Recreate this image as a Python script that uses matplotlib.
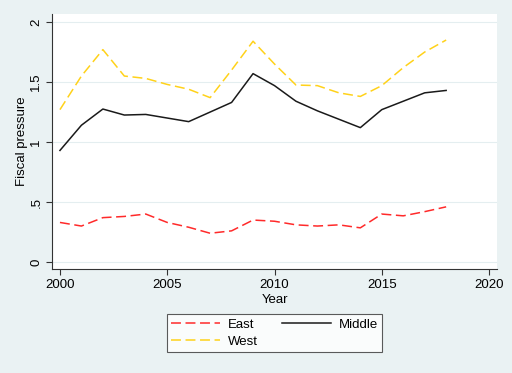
import numpy as np
import matplotlib.pyplot as plt

plt.rcParams['font.family'] = ['Liberation Sans', 'DejaVu Sans']

years = list(range(2000, 2019))
east = [0.33, 0.30, 0.37, 0.38, 0.40, 0.33, 0.29, 0.24, 0.26, 0.35,
        0.34, 0.31, 0.30, 0.31, 0.285, 0.40, 0.385, 0.42, 0.46]
middle = [0.93, 1.14, 1.275, 1.225, 1.23, 1.20, 1.17, 1.25, 1.33, 1.57,
          1.47, 1.34, 1.26, 1.19, 1.12, 1.27, 1.34, 1.41, 1.43]
west = [1.27, 1.55, 1.77, 1.55, 1.53, 1.48, 1.44, 1.37, 1.60, 1.84,
        1.65, 1.475, 1.47, 1.41, 1.38, 1.47, 1.62, 1.75, 1.85]

yticks = [0, 0.5, 1, 1.5, 2]
yticklabels = ['0', '.5', '1', '1.5', '2']
xticks = [2000, 2005, 2010, 2015, 2020]

bg = '#eaf2f3'
fs = 9.5
fig = plt.figure(figsize=(5.12, 3.73), dpi=100, facecolor=bg)
ax = fig.add_axes([0.1016, 0.2788, 0.8691, 0.6837])
ax.set_facecolor('white')

for y in yticks:
    ax.axhline(y, color='#e4eef0', lw=0.8, zorder=0)

l_east, = ax.plot(years, east, color='#ff2a2a', lw=1.1, dashes=(6.5, 3), label='East')
l_mid, = ax.plot(years, middle, color='#1a1a1a', lw=1.1, label='Middle')
l_west, = ax.plot(years, west, color='#ffd21a', lw=1.1, dashes=(6.5, 3), label='West')

ax.set_xlim(1999.63, 2020.37)
ax.set_ylim(-0.058, 2.067)
ax.set_xticks(xticks)
ax.set_yticks(yticks)
ax.set_yticklabels(yticklabels, rotation=90, va='center')
ax.tick_params(direction='out', length=4, width=0.8, color='#333333', labelsize=fs, pad=3)
for s in ['top', 'right']:
    ax.spines[s].set_visible(False)
for s in ['left', 'bottom']:
    ax.spines[s].set_color('#333333')
    ax.spines[s].set_linewidth(0.8)

ax.set_xlabel('Year', fontsize=fs, labelpad=2)
ax.set_ylabel('Fiscal pressure', fontsize=fs, labelpad=1.5)

leg = fig.legend(handles=[l_east, l_west, l_mid], loc='center', ncol=2,
                 bbox_to_anchor=(0.536, 0.107), fontsize=fs, frameon=True,
                 fancybox=False, edgecolor='#333333', handlelength=3.7,
                 handletextpad=0.6, columnspacing=1.8, labelspacing=0.35,
                 borderpad=0.35)
leg.get_frame().set_linewidth(0.8)

fig.savefig('out.png', dpi=100, facecolor=bg)
